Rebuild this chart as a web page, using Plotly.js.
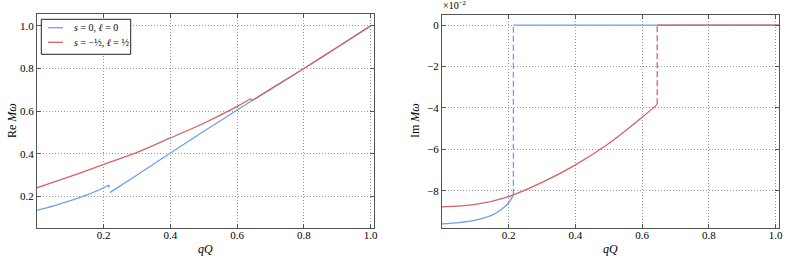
<!DOCTYPE html>
<html><head><meta charset="utf-8">
<script src="https://cdn.plot.ly/plotly-3.0.1.min.js"></script>
<style>body{margin:0;padding:0;background:#fff}#c{width:789px;height:259px}</style>
</head><body><div id="c"></div>
<script>
// Re M omega, s=0, l=0 (blue): lower branch, hook, upper branch
const qQ_re_blue_a = [0, 0.05, 0.1, 0.15, 0.2, 0.215];
const re_blue_a    = [0.134, 0.155, 0.179, 0.207, 0.24, 0.253];
const qQ_re_blue_hook = [0.215, 0.2165, 0.213];
const re_blue_hook    = [0.253, 0.246, 0.243];
const qQ_re_blue_b = [0.218, 0.3, 0.4, 0.5, 0.6, 0.645, 0.7, 0.8, 0.9, 1.0];
const re_blue_b    = [0.217, 0.3, 0.403, 0.505, 0.605, 0.650, 0.703, 0.8, 0.9, 1.0];
// Re M omega, s=-1/2, l=1/2 (red)
const qQ_re_red_a = [0, 0.1, 0.2, 0.3, 0.4, 0.5, 0.6, 0.64];
const re_red_a    = [0.24, 0.293, 0.35, 0.406, 0.474, 0.543, 0.622, 0.658];
const qQ_re_red_hook = [0.64, 0.645];
const re_red_hook    = [0.658, 0.649];
const qQ_re_red_b = [0.645, 0.7, 0.8, 0.9, 1.0];
const re_red_b    = [0.649, 0.703, 0.8, 0.9, 1.0];
// Im M omega (x 1e-2)
const qQ_im_blue = [0, 0.05, 0.1, 0.15, 0.18, 0.2, 0.214];
const im_blue    = [-9.6, -9.54, -9.42, -9.18, -8.88, -8.58, -8.2];
const qQ_im_blue_jump = [0.214, 0.214];
const im_blue_jump    = [-8.2, 0];
const qQ_im_blue_zero = [0.214, 1.01];
const im_blue_zero    = [0, 0];
const qQ_im_red = [0, 0.1, 0.2, 0.3, 0.4, 0.5, 0.6, 0.645];
const im_red    = [-8.78, -8.66, -8.28, -7.6, -6.75, -5.72, -4.45, -3.83];
const qQ_im_red_jump = [0.645, 0.645];
const im_red_jump    = [-3.83, 0];
const qQ_im_red_zero = [0.645, 1.01];
const im_red_zero    = [0, 0];

const xTicks = [0.2, 0.4, 0.6, 0.8, 1.0];
const xTickText = ['0.2', '0.4', '0.6', '0.8', '1.0'];
const reTicks = [0.2, 0.4, 0.6, 0.8, 1.0];
const reTickText = ['0.2', '0.4', '0.6', '0.8', '1.0'];
const imTicks = [-8, -6, -4, -2, 0];
const imTickText = ['−8', '−6', '−4', '−2', '0'];
const legendNames = ['<i>s</i> = 0, <i>ℓ</i> = 0', '<i>s</i> = −½, <i>ℓ</i> = ½'];

const BLUE = '#6f9ef0', RED = '#d26464';
const LW = 1.3;
const serif = 'Liberation Serif, DejaVu Serif, serif';

function tr(x, y, color, opts) {
  return Object.assign({x: x, y: y, mode: 'lines', line: {color: color, width: LW}, showlegend: false, hoverinfo: 'skip'}, opts || {});
}
const sp = (c) => ({color: c, width: LW, shape: 'spline', smoothing: 1});

const traces = [
  tr(qQ_re_blue_a, re_blue_a, BLUE, {line: sp(BLUE), xaxis: 'x', yaxis: 'y', name: legendNames[0]}),
  tr(qQ_re_blue_hook, re_blue_hook, BLUE, {xaxis: 'x', yaxis: 'y'}),
  tr(qQ_re_blue_b, re_blue_b, BLUE, {line: sp(BLUE), xaxis: 'x', yaxis: 'y'}),
  tr(qQ_re_red_a, re_red_a, RED, {line: sp(RED), xaxis: 'x', yaxis: 'y', name: legendNames[1]}),
  tr(qQ_re_red_hook, re_red_hook, RED, {xaxis: 'x', yaxis: 'y'}),
  tr(qQ_re_red_b, re_red_b, RED, {line: sp(RED), xaxis: 'x', yaxis: 'y'}),
  tr(qQ_im_blue, im_blue, BLUE, {line: sp(BLUE), xaxis: 'x2', yaxis: 'y2'}),
  tr(qQ_im_blue_jump, im_blue_jump, BLUE, {line: {color: BLUE, width: LW, dash: '6px,3px'}, xaxis: 'x2', yaxis: 'y2'}),
  tr(qQ_im_blue_zero, im_blue_zero, BLUE, {xaxis: 'x2', yaxis: 'y2'}),
  tr(qQ_im_red, im_red, RED, {line: sp(RED), xaxis: 'x2', yaxis: 'y2'}),
  tr(qQ_im_red_jump, im_red_jump, RED, {line: {color: RED, width: LW, dash: '6px,3px'}, xaxis: 'x2', yaxis: 'y2'}),
  tr(qQ_im_red_zero, im_red_zero, RED, {xaxis: 'x2', yaxis: 'y2'})
];

function ax(extra) {
  return Object.assign({
    showline: true, linecolor: '#555', linewidth: 1, mirror: 'ticks',
    ticks: 'inside', ticklen: 4, tickcolor: '#555', tickwidth: 1,
    showgrid: true, gridcolor: '#999', griddash: '1px,2px', gridwidth: 1,
    zeroline: false, tickfont: {family: serif, size: 11, color: '#000'},
    fixedrange: true
  }, extra);
}

// legend drawn in paper coordinates (pixel helpers)
const W = 789, H = 259;
const px = (v) => v / W, py = (v) => 1 - v / H;

const layout = {
  width: W, height: H,
  margin: {l: 0, r: 0, t: 0, b: 0},
  paper_bgcolor: '#fff', plot_bgcolor: '#fff',
  showlegend: false,
  xaxis: ax({domain: [37/W, 374/W], range: [0, 1.01], tickvals: xTicks, ticktext: xTickText, anchor: 'y', ticklabelstandoff: -3}),
  yaxis: ax({domain: [1 - 228/H, 1 - 14/H], range: [0.051, 1.056], tickvals: reTicks, ticktext: reTickText, anchor: 'x'}),
  xaxis2: ax({domain: [442/W, 779/W], range: [0, 1.01], tickvals: xTicks, ticktext: xTickText, anchor: 'y2', ticklabelstandoff: -3}),
  yaxis2: ax({domain: [1 - 228/H, 1 - 14.7/H], range: [-9.8, 0.5], tickvals: imTicks, ticktext: imTickText, anchor: 'x2'}),
  shapes: [
    {type: 'rect', xref: 'paper', yref: 'paper', x0: px(41.3), x1: px(130.7), y0: py(54.3), y1: py(19.3), line: {color: '#222', width: 1}, fillcolor: '#fff', layer: 'above'},
    {type: 'line', xref: 'paper', yref: 'paper', x0: px(48), x1: px(63), y0: py(27.7), y1: py(27.7), line: {color: BLUE, width: LW}, layer: 'above'},
    {type: 'line', xref: 'paper', yref: 'paper', x0: px(48), x1: px(63), y0: py(42.3), y1: py(42.3), line: {color: RED, width: LW}, layer: 'above'}
  ],
  annotations: [
    {text: legendNames[0], xref: 'paper', yref: 'paper', x: px(72), y: py(27.7), xanchor: 'left', yanchor: 'middle', showarrow: false, font: {family: serif, size: 10, color: '#000'}},
    {text: legendNames[1], xref: 'paper', yref: 'paper', x: px(72), y: py(42.8), xanchor: 'left', yanchor: 'middle', showarrow: false, font: {family: serif, size: 10, color: '#000'}},
    {text: '<i>qQ</i>', xref: 'paper', yref: 'paper', x: px(205), y: py(249), xanchor: 'center', yanchor: 'middle', showarrow: false, font: {family: serif, size: 12, color: '#000'}},
    {text: '<i>qQ</i>', xref: 'paper', yref: 'paper', x: px(610), y: py(249), xanchor: 'center', yanchor: 'middle', showarrow: false, font: {family: serif, size: 12, color: '#000'}},
    {text: 'Re <i>Mω</i>', xref: 'paper', yref: 'paper', x: px(12), y: py(121), xanchor: 'center', yanchor: 'middle', textangle: -90, showarrow: false, font: {family: serif, size: 12, color: '#000'}},
    {text: 'Im <i>Mω</i>', xref: 'paper', yref: 'paper', x: px(415), y: py(121), xanchor: 'center', yanchor: 'middle', textangle: -90, showarrow: false, font: {family: serif, size: 12, color: '#000'}},
    {text: '×10<sup>−2</sup>', xref: 'paper', yref: 'paper', x: px(441), y: py(13), xanchor: 'left', yanchor: 'bottom', showarrow: false, font: {family: serif, size: 10, color: '#000'}}
  ]
};

Plotly.newPlot('c', traces, layout, {displayModeBar: false, staticPlot: true});
</script></body></html>
